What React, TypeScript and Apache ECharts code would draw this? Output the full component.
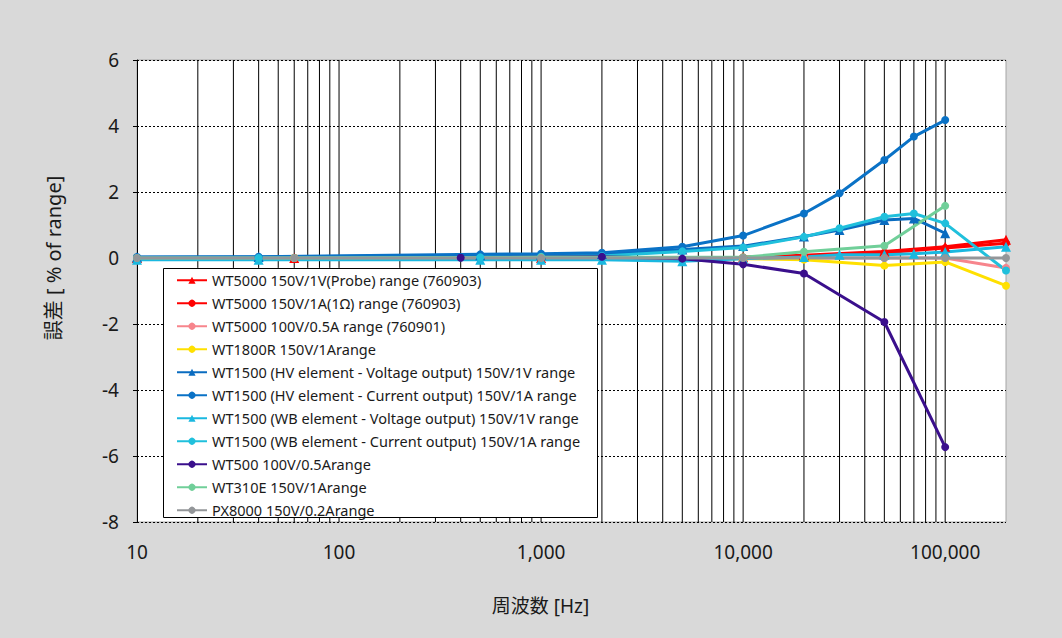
import { useEffect, useRef } from 'react';
import * as echarts from 'echarts';

// 系列名
const seriesNames = [
  'WT5000 150V/1V(Probe) range (760903)',
  'WT5000 150V/1A(1Ω) range (760903)',
  'WT5000 100V/0.5A range (760901)',
  'WT1800R 150V/1Arange',
  'WT1500 (HV element - Voltage output) 150V/1V range',
  'WT1500 (HV element - Current output) 150V/1A range',
  'WT1500 (WB element - Voltage output) 150V/1V range',
  'WT1500 (WB element - Current output) 150V/1A range',
  'WT500 100V/0.5Arange',
  'WT310E 150V/1Arange',
  'PX8000 150V/0.2Arange',
];

// 周波数 [Hz]
const freqWT5000 = [10, 60, 1000, 10000, 20000, 50000, 100000, 200000];
const freqHV = [10, 40, 500, 1000, 2000, 5000, 10000, 20000, 30000, 50000, 70000, 100000];
const freqWB = [10, 40, 500, 1000, 2000, 5000, 10000, 20000, 30000, 50000, 70000, 100000, 200000];
const freqWT500 = [400, 2000, 5000, 10000, 20000, 50000, 100000];
const freqWT310 = [10, 60, 1000, 10000, 20000, 50000, 100000];
const freqPX = [10, 60, 1000, 10000, 50000, 100000, 200000];

// 誤差 [% of range]
const wt5000Probe = [0, 0, 0, 0.02, 0.08, 0.2, 0.34, 0.55];
const wt5000Shunt = [0, 0, 0, 0.02, 0.06, 0.16, 0.3, 0.45];
const wt5000Half = [0, 0, 0, 0, 0, 0, 0, -0.3];
const wt1800 = [0, 0, 0, -0.02, -0.05, -0.23, -0.12, -0.84];
const hvVoltage = [0.02, 0.03, 0.08, 0.1, 0.12, 0.26, 0.36, 0.65, 0.85, 1.15, 1.2, 0.75];
const hvCurrent = [0.03, 0.04, 0.11, 0.13, 0.16, 0.34, 0.68, 1.35, 1.96, 2.97, 3.68, 4.18];
const wbVoltage = [-0.05, -0.05, -0.05, -0.05, -0.05, -0.1, -0.02, 0.03, 0.1, 0.1, 0.13, 0.18, 0.34];
const wbCurrent = [0, 0, 0.02, 0.04, 0.06, 0.2, 0.32, 0.64, 0.9, 1.25, 1.35, 1.05, -0.38];
const wt500 = [0.01, 0.04, -0.02, -0.19, -0.47, -1.94, -5.73];
const wt310 = [0, 0, 0.02, 0.02, 0.19, 0.37, 1.58];
const px8000 = [0, 0, 0, 0, 0, 0, 0];

// 縦の目盛線 (各桁の 2〜10)
const decades = [10, 100, 1000, 10000];
const gridSteps = [2, 3, 4, 5, 6, 7, 8, 9, 10];

// 凡例に隠れる範囲 (周波数・誤差)
const legendFreq = [13, 1950];
const legendErr = [-0.3, -7.85];

const Y_MIN = -8;
const Y_MAX = 6;

const FONT = "'Noto Sans', 'Noto Sans CJK JP', sans-serif";

const pair = (xs: number[], ys: number[]) => xs.map((x, i) => [x, ys[i]]);

function makeLine(
  name: string,
  data: number[][],
  color: string,
  symbol: 'circle' | 'triangle'
) {
  return {
    name,
    type: 'line',
    data,
    symbol,
    symbolSize: symbol === 'triangle' ? 10 : 8,
    z: 3,
    lineStyle: { color, width: 3 },
    itemStyle: { color },
    emphasis: { disabled: true },
  };
}

// 凡例の部分を避けた縦線 ('-' で線を切る)
function verticalLineData() {
  const out: any[] = [];
  decades.forEach((d) => {
    gridSteps.forEach((k) => {
      const f = d * k;
      if (f > legendFreq[0] && f < legendFreq[1]) {
        out.push([f, Y_MAX], [f, legendErr[0]], [f, '-']);
        out.push([f, legendErr[1]], [f, Y_MIN], [f, '-']);
      } else {
        out.push([f, Y_MAX], [f, Y_MIN], [f, '-']);
      }
    });
  });
  return out;
}

export default function App() {
  const chartRef = useRef<HTMLDivElement>(null);

  useEffect(() => {
    document.body.style.margin = '0';
    if (!chartRef.current) return;
    const chart = echarts.init(chartRef.current, undefined, { renderer: 'svg' });

    const option: any = {
      animation: false,
      backgroundColor: '#d9d9d9',
      textStyle: { fontFamily: FONT },
      grid: {
        left: 137,
        top: 60,
        right: 56,
        bottom: 116,
        show: true,
        backgroundColor: '#ffffff',
        borderColor: '#a6a6a6',
        borderWidth: 1,
      },
      // 凡例の枠
      graphic: [
        {
          type: 'rect',
          left: 163,
          top: 268,
          z: 10,
          silent: true,
          shape: { width: 434, height: 249 },
          style: { fill: '#ffffff', stroke: '#000000', lineWidth: 1 },
        },
      ],
      legend: {
        data: seriesNames,
        orient: 'vertical',
        left: 163,
        top: 268,
        z: 20,
        padding: [5, 16, 5, 13],
        itemWidth: 30,
        itemHeight: 9,
        itemGap: 8.5,
        textStyle: { fontFamily: FONT, fontSize: 14.5, lineHeight: 14, color: '#1a1a1a' },
      },
      xAxis: {
        type: 'log',
        logBase: 10,
        min: 10,
        max: 200000,
        name: '周波数 [Hz]',
        nameLocation: 'middle',
        nameGap: 74,
        nameTextStyle: { fontFamily: FONT, fontSize: 19, color: '#1a1a1a', padding: [0, 62, 0, 0] },
        axisLine: { show: true, lineStyle: { color: '#8c8c8c', width: 1 } },
        axisTick: { show: false },
        axisLabel: {
          fontFamily: FONT,
          fontSize: 19,
          color: '#1a1a1a',
          margin: 20,
          showMaxLabel: false,
          formatter: (v: number) => Math.round(v).toLocaleString('en-US'),
        },
        splitLine: { show: false },
      },
      yAxis: {
        type: 'value',
        min: Y_MIN,
        max: Y_MAX,
        interval: 2,
        name: '誤差 [ % of range]',
        nameLocation: 'middle',
        nameGap: 74,
        nameTextStyle: { fontFamily: FONT, fontSize: 20, color: '#1a1a1a', padding: [0, 0, 0, 66] },
        axisLine: { show: true, lineStyle: { color: '#000000', width: 1 } },
        axisTick: { show: true, inside: false, length: 4, lineStyle: { color: '#000000' } },
        axisLabel: { fontFamily: FONT, fontSize: 19, color: '#1a1a1a', margin: 18 },
        splitLine: { show: true, lineStyle: { color: '#000000', width: 1, type: [2, 2] } },
      },
      series: [
        {
          name: 'grid-lines',
          type: 'line',
          data: verticalLineData(),
          z: 1,
          silent: true,
          showSymbol: false,
          symbol: 'none',
          connectNulls: false,
          lineStyle: { color: '#000000', width: 1 },
          emphasis: { disabled: true },
        },
        makeLine(seriesNames[0], pair(freqWT5000, wt5000Probe), '#ff0000', 'triangle'),
        makeLine(seriesNames[1], pair(freqWT5000, wt5000Shunt), '#ff0000', 'circle'),
        makeLine(seriesNames[2], pair(freqWT5000, wt5000Half), '#f7858c', 'circle'),
        makeLine(seriesNames[3], pair(freqWT5000, wt1800), '#ffe000', 'circle'),
        makeLine(seriesNames[4], pair(freqHV, hvVoltage), '#0a6cc0', 'triangle'),
        makeLine(seriesNames[5], pair(freqHV, hvCurrent), '#0a72c6', 'circle'),
        makeLine(seriesNames[6], pair(freqWB, wbVoltage), '#1ab8e0', 'triangle'),
        makeLine(seriesNames[7], pair(freqWB, wbCurrent), '#20c0dc', 'circle'),
        makeLine(seriesNames[8], pair(freqWT500, wt500), '#3a0f8c', 'circle'),
        makeLine(seriesNames[9], pair(freqWT310, wt310), '#70cf99', 'circle'),
        makeLine(seriesNames[10], pair(freqPX, px8000), '#939699', 'circle'),
      ],
    };

    chart.setOption(option);

    return () => {
      chart.dispose();
    };
  }, []);

  return <div ref={chartRef} style={{ width: 1062, height: 638 }} />;
}
